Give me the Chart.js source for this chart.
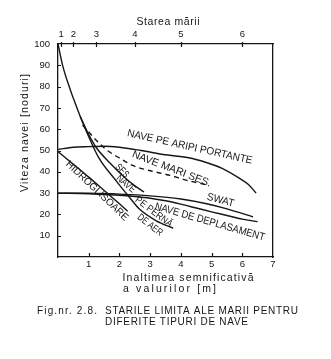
<!DOCTYPE html>
<html>
<head>
<meta charset="utf-8">
<script src="https://cdn.jsdelivr.net/npm/chart.js@4.4.1/dist/chart.umd.min.js"></script>
<style>
    html, body { margin:0; padding:0; background:#fff; }
    canvas { display:block; }
</style>
</head>
<body>
<canvas id="cnv-stari" width="331" height="359"></canvas>
<script>
(function(win){

    //--------------------------------------
    // Data
    //--------------------------------------
    var seaStateHeights = [0.1, 0.5, 1.25, 2.5, 4, 6];
    var seaStateLabels = ['1', '2', '3', '4', '5', '6'];

    var pernaX = [0, 0.15, 0.4, 0.5, 0.75, 1.0, 1.33, 1.88, 2.3, 2.65, 3.2, 3.75];
    var pernaY = [100, 90, 78.5, 74.5, 65, 56.5, 46.5, 36, 28.5, 22.5, 17, 13.5];

    var sesX = [0.72, 1.0, 1.25, 1.7, 2.1, 2.45, 2.8];
    var sesY = [66, 57.5, 51.3, 44, 38.3, 34, 30.5];

    var mariSesX = [0.8, 1.2, 1.56, 2.0, 2.43, 3.0, 3.6, 4.2, 4.8];
    var mariSesY = [62, 55.5, 50.5, 46.5, 43, 40.5, 38.5, 36, 34];

    var aripiX = [0, 0.5, 1.0, 1.5, 2.0, 2.7, 3.5, 4.3, 4.8, 5.36, 5.9, 6.2, 6.45];
    var aripiY = [50.5, 51.5, 51.8, 52, 51.5, 50, 48, 46.5, 44.5, 41.5, 37, 34, 30];

    var swatX = [0, 1, 2, 3, 4, 4.84, 5.5, 6.35];
    var swatY = [30, 29.9, 29.5, 28.7, 27.2, 25, 22.6, 18.8];

    var deplX = [0, 1, 2, 2.5, 3, 3.5, 4, 4.5, 5, 5.5, 6, 6.5];
    var deplY = [30, 29.7, 29, 28.4, 27.6, 26.4, 24.8, 23, 21.2, 19.5, 17.8, 16.6];

    var hidroX = [0, 0.5, 1.0, 1.56, 2.0, 2.27];
    var hidroY = [49.5, 43.5, 37.5, 30.5, 25, 21.5];

    //--------------------------------------
    // Layout (labels written along the curves)
    //--------------------------------------
    var INK = '#161616';
    var FONT = '"Liberation Sans", Arial, sans-serif';

    var curveLabels = [
        {text:'NAVE PE ARIPI PORTANTE', x:4.29, y:51.6, angle:12.5, width:128, size:10.5},
        {text:'NAVE MARI SES.', x:3.7, y:41.3, angle:21, width:84, size:10.5},
        {text:'SWAT', x:5.29, y:26.6, angle:15, width:28, size:10.5},
        {text:'NAVE DE DEPLASAMENT', x:4.94, y:16.4, angle:16, width:114, size:10.5},
        {text:'SES', x:2.08, y:40.4, angle:45, width:15, size:10},
        {text:'NAVE', x:2.21, y:34.3, angle:40, width:22, size:10},
        {text:'PE PERNĂ', x:3.12, y:21.1, angle:37, width:44, size:10},
        {text:'DE AER', x:2.99, y:15, angle:38, width:29, size:10},
        {text:'HIDROGLISOARE', x:1.27, y:31, angle:43.5, width:82, size:10}
    ];

    var pageTexts = [
        {text:'Starea mării', cx:168, cy:22, width:63, size:10.5, angle:0},
        {text:'Viteza navei [noduri]', cx:25, cy:133, width:118, size:10.5, angle:-90},
        {text:'Inaltimea semnificativă', cx:188, cy:278, width:131, size:10.5, angle:0},
        {text:'a valurilor [m]', cx:169.5, cy:289, width:93, size:10.5, angle:0},
        {text:'Fig.nr. 2.8.', cx:67, cy:311.5, width:60, size:10, angle:0},
        {text:'STARILE LIMITA ALE MARII PENTRU', cx:201.5, cy:311.5, width:193, size:10, angle:0},
        {text:'DIFERITE TIPURI DE NAVE', cx:176.5, cy:322.5, width:143, size:10, angle:0}
    ];

    //--------------------------------------
    // Helpers
    //--------------------------------------
    var toPoints = function(xs, ys){
        return xs.map(function(v, i){ return {x:v, y:ys[i]}; });
    };

    var makeSeries = function(label, xs, ys, dash){
        return {
            label: label,
            data: toPoints(xs, ys),
            showLine: true,
            borderColor: INK,
            borderWidth: 1.4,
            borderDash: dash || [],
            pointRadius: 0,
            cubicInterpolationMode: 'monotone',
            fill: false
        };
    };

    //draw a text stretched/spaced to a given width, centred on (cx, cy)
    var drawFit = function(ctx, text, cx, cy, width, size, angle){
        ctx.save();
        ctx.font = size + 'px ' + FONT;
        ctx.letterSpacing = '0px';
        var w = ctx.measureText(text).width;
        ctx.translate(cx, cy);
        ctx.rotate(angle * Math.PI / 180);
        ctx.textBaseline = 'middle';
        ctx.textAlign = 'left';
        ctx.fillStyle = INK;
        if(w >= width){
            ctx.scale(width / w, 1);
            ctx.fillText(text, -w / 2, 0);
        }else{
            var sp = (width - w) / Math.max(text.length - 1, 1);
            ctx.letterSpacing = sp + 'px';
            ctx.fillText(text, -width / 2, 0);
        }
        ctx.restore();
    };

    var textPlugin = {
        id: 'stariText',
        afterDraw: function(chart){
            var ctx = chart.ctx;
            var xs = chart.scales.x;
            var ys = chart.scales.y;
            var xt = chart.scales.xTop;
            var area = chart.chartArea;

            //inward tick marks
            ctx.save();
            ctx.strokeStyle = INK;
            ctx.lineWidth = 1.2;
            ctx.beginPath();
            xs.ticks.forEach(function(t){
                if(t.value <= 0 || t.value >= 7){ return; }
                var px = Math.round(xs.getPixelForValue(t.value)) + 0.5;
                ctx.moveTo(px, area.bottom);
                ctx.lineTo(px, area.bottom - 4);
            });
            ys.ticks.forEach(function(t){
                if(t.value <= 0 || t.value >= 100){ return; }
                var py = Math.round(ys.getPixelForValue(t.value)) + 0.5;
                ctx.moveTo(area.left, py);
                ctx.lineTo(area.left + 3, py);
            });
            xt.ticks.forEach(function(t){
                var px = Math.round(xt.getPixelForValue(t.value)) + 0.5;
                ctx.moveTo(px, area.top - 2);
                ctx.lineTo(px, area.top + 3);
            });
            ctx.stroke();
            ctx.restore();

            curveLabels.forEach(function(l){
                drawFit(ctx, l.text, xs.getPixelForValue(l.x), ys.getPixelForValue(l.y), l.width, l.size, l.angle);
            });

            pageTexts.forEach(function(t){
                drawFit(ctx, t.text, t.cx, t.cy, t.width, t.size, t.angle);
            });
        }
    };

    //--------------------------------------
    // Chart
    //--------------------------------------
    var setChart = function(){
        var cnv = document.getElementById('cnv-stari');
        var tickFont = {family: FONT, size: 9.5};
        var border = {display: true, color: INK, width: 1.3};
        var noGrid = {display: false, drawTicks: false};

        var chart = new Chart(cnv, {
            type: 'scatter',
            data: {
                datasets: [
                    makeSeries('Nave pe pernă de aer', pernaX, pernaY),
                    makeSeries('SES', sesX, sesY),
                    makeSeries('Nave mari SES', mariSesX, mariSesY, [5, 4]),
                    makeSeries('Nave pe aripi portante', aripiX, aripiY),
                    makeSeries('SWAT', swatX, swatY),
                    makeSeries('Nave de deplasament', deplX, deplY),
                    makeSeries('Hidroglisoare', hidroX, hidroY)
                ]
            },
            options: {
                responsive: false,
                devicePixelRatio: 1,
                animation: false,
                layout: {padding: 0},
                plugins: {
                    legend: {display: false},
                    tooltip: {enabled: false}
                },
                scales: {
                    x: {
                        type: 'linear', position: 'bottom', min: 0, max: 7,
                        grid: noGrid, border: border,
                        ticks: {
                            stepSize: 1, color: INK, font: tickFont, padding: 2,
                            maxRotation: 0,
                            callback: function(v){ return v === 0 ? '' : String(v); }
                        },
                        afterFit: function(s){ s.height = 102; }
                    },
                    xTop: {
                        type: 'linear', position: 'top', min: 0, max: 7,
                        grid: noGrid, border: border,
                        ticks: {
                            color: INK, font: tickFont, padding: 4,
                            autoSkip: false, maxRotation: 0,
                            callback: function(v){
                                var i = seaStateHeights.indexOf(v);
                                return i >= 0 ? seaStateLabels[i] : '';
                            }
                        },
                        afterBuildTicks: function(s){
                            s.ticks = seaStateHeights.map(function(v){ return {value: v}; });
                        },
                        afterFit: function(s){ s.height = 44; }
                    },
                    y: {
                        type: 'linear', position: 'left', min: 0, max: 100,
                        grid: noGrid, border: border,
                        ticks: {
                            stepSize: 10, color: INK, font: tickFont, padding: 8,
                            callback: function(v){ return v === 0 ? '' : String(v); }
                        },
                        afterFit: function(s){ s.width = 58; }
                    },
                    yRight: {
                        type: 'linear', position: 'right', min: 0, max: 100,
                        grid: noGrid, border: border,
                        ticks: {display: false},
                        afterFit: function(s){ s.width = 58; }
                    }
                }
            },
            plugins: [textPlugin]
        });
        return chart;
    };

    setChart();

})(window);
</script>
</body>
</html>
